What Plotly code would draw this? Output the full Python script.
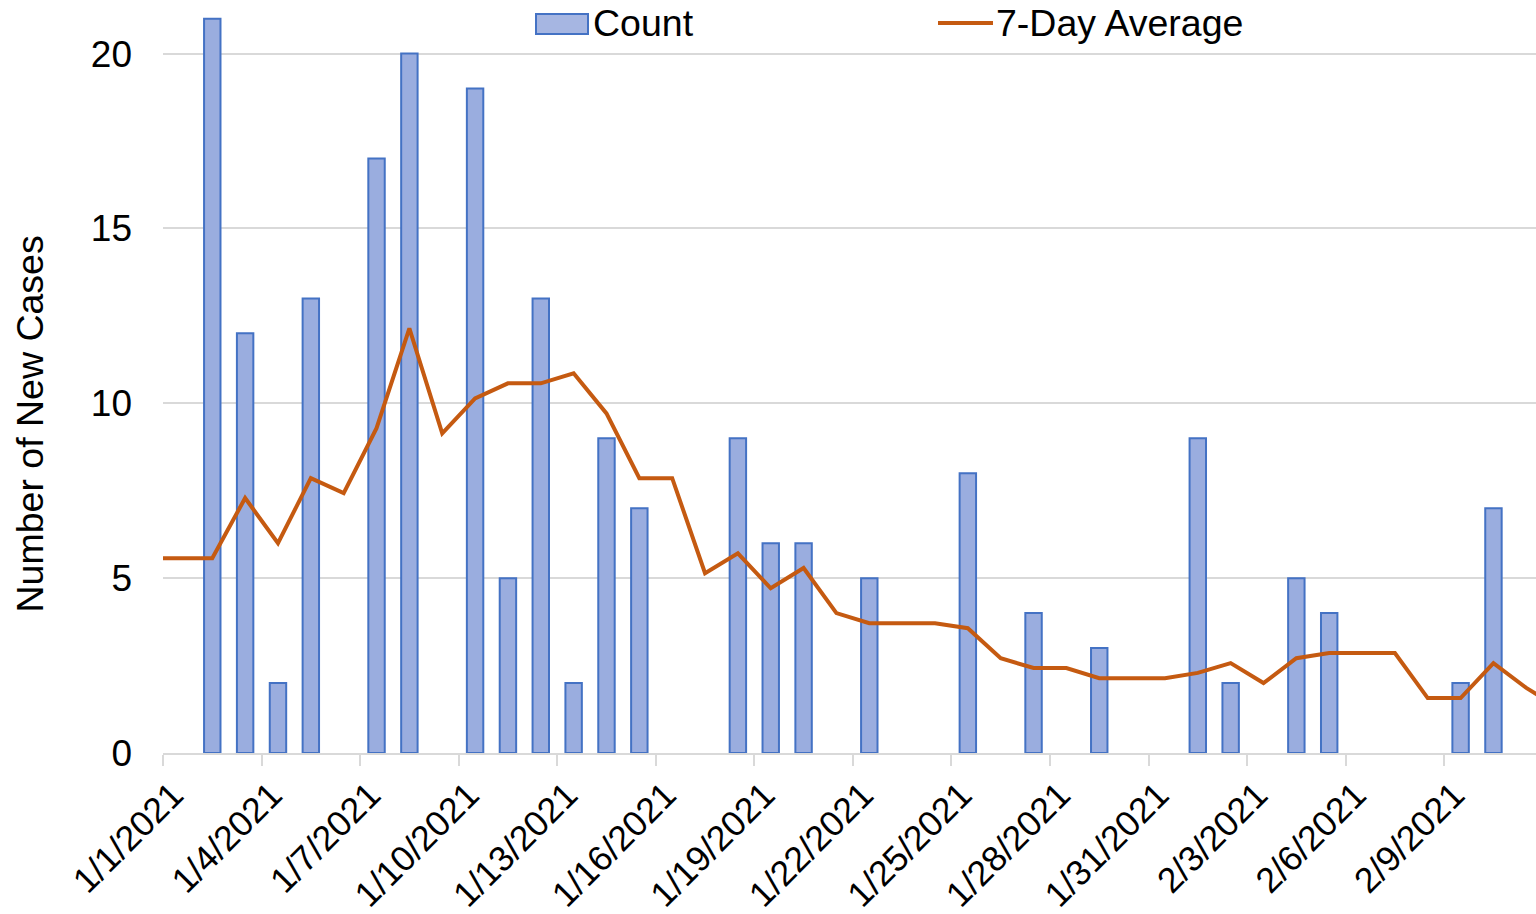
import pandas as pd
import plotly.graph_objects as go

# ---- data ----
count_dates = pd.date_range("2021-01-01", "2021-02-11", freq="D")
counts = [0, 21, 12, 2, 13, 0, 17, 20, 0, 19, 5, 13, 2, 9, 7, 0, 0, 9, 6, 6, 0,
          5, 0, 0, 8, 0, 4, 0, 3, 0, 0, 9, 2, 0, 5, 4, 0, 0, 0, 2, 7, 0]

avg_dates = pd.date_range("2020-12-31", "2021-02-12", freq="D")
avg7 = [5.57, 5.57, 5.57, 7.29, 6.00, 7.86, 7.43, 9.29, 12.14, 9.14, 10.14,
        10.57, 10.57, 10.86, 9.71, 7.86, 7.86, 5.14, 5.71, 4.71, 5.29, 4.00,
        3.71, 3.71, 3.71, 3.57, 2.71, 2.43, 2.43, 2.14, 2.14, 2.14, 2.29,
        2.57, 2.00, 2.71, 2.86, 2.86, 2.86, 1.57, 1.57, 2.57, 1.86, 1.29]

series_names = ["Count", "7-Day Average"]
y_title = "Number of New Cases"

# ---- style ----
FONT = "Liberation Sans, Arial, sans-serif"
FS = 37
FS_BIG = 37.5
FS_X = 35.5
BAR_FILL = "#9aaddf"
BAR_EDGE = "#4472c4"
LINE_COL = "#c55a11"
GRID = "#d9d9d9"

W, H = 1536, 914
L, R, T, B = 163, 0, 0, 161
PW, PH = W - L - R, H - T - B


def px2paper(px, py):
    """screen pixel of the reference -> paper coordinates"""
    return (px - L) / PW, (H - B - py) / PH


DAY_MS = 86400000

# zero-count days draw no bar (as in the reference)
bar_y = [c if c != 0 else None for c in counts]

fig = go.Figure()
fig.add_trace(go.Bar(
    x=count_dates, y=bar_y, name=series_names[0],
    xperiod=DAY_MS, xperiodalignment="middle",
    marker=dict(color=BAR_FILL, line=dict(color=BAR_EDGE, width=2)),
    showlegend=False,
))
fig.add_trace(go.Scatter(
    x=avg_dates, y=avg7, name=series_names[1], mode="lines",
    xperiod=DAY_MS, xperiodalignment="middle",
    line=dict(color=LINE_COL, width=4),
    showlegend=False,
))

# manual legend (swatches + text) to match the reference layout
x0, y0 = px2paper(536, 34)
x1, y1 = px2paper(588, 14)
fig.add_shape(type="rect", xref="paper", yref="paper", x0=x0, y0=y0, x1=x1, y1=y1,
              fillcolor="#a6b6e2", line=dict(color=BAR_EDGE, width=2))
lx0, ly = px2paper(938, 23)
lx1, _ = px2paper(993, 23)
fig.add_shape(type="line", xref="paper", yref="paper", x0=lx0, y0=ly, x1=lx1, y1=ly,
              line=dict(color=LINE_COL, width=4))
tx, ty = px2paper(591, 23)
fig.add_annotation(text=series_names[0], xref="paper", yref="paper", x=tx, y=ty,
                   xanchor="left", yanchor="middle", showarrow=False,
                   font=dict(family=FONT, size=FS_BIG, color="#000000"))
tx, ty = px2paper(994, 23)
fig.add_annotation(text=series_names[1], xref="paper", yref="paper", x=tx, y=ty,
                   xanchor="left", yanchor="middle", showarrow=False,
                   font=dict(family=FONT, size=FS_BIG, color="#000000"))

# y-axis title
ax, ay = px2paper(30, 424.5)
fig.add_annotation(text=y_title, xref="paper", yref="paper", x=ax, y=ay,
                   xanchor="center", yanchor="middle", textangle=-90, showarrow=False,
                   font=dict(family=FONT, size=FS_BIG, color="#000000"))

fig.update_layout(
    width=W, height=H,
    margin=dict(l=L, r=R, t=T, b=B, pad=0, autoexpand=False),
    paper_bgcolor="white", plot_bgcolor="white",
    font=dict(family=FONT, size=FS, color="#000000"),
    bargap=0.5,
    showlegend=False,
)

fig.update_xaxes(
    type="date", automargin=False,
    range=["2021-01-01", "2021-02-11 19:05"],
    tick0="2021-01-01", dtick=3 * DAY_MS,
    tickformat="%-m/%-d/%Y", tickangle=-45,
    showgrid=False, zeroline=False,
    showline=True, linecolor=GRID, linewidth=2,
    ticks="outside", ticklen=11, tickwidth=2, tickcolor=GRID,
    ticklabelshift=10, ticklabelstandoff=-6,
    tickfont=dict(family=FONT, size=FS_X, color="#000000"),
)
fig.update_yaxes(
    automargin=False,
    range=[0, PH / 34.97],
    tick0=0, dtick=5,
    showgrid=True, gridcolor=GRID, gridwidth=1.5,
    zeroline=False, showline=False, ticks="",
    ticklabelstandoff=30,
    tickfont=dict(family=FONT, size=FS, color="#000000"),
)

# remove the browser's default 8px body margin so the figure fills the window
fig.write_html(
    "out.html",
    config={"displayModeBar": False},
    post_script="document.body.style.margin='0';document.body.style.overflow='hidden';",
)
